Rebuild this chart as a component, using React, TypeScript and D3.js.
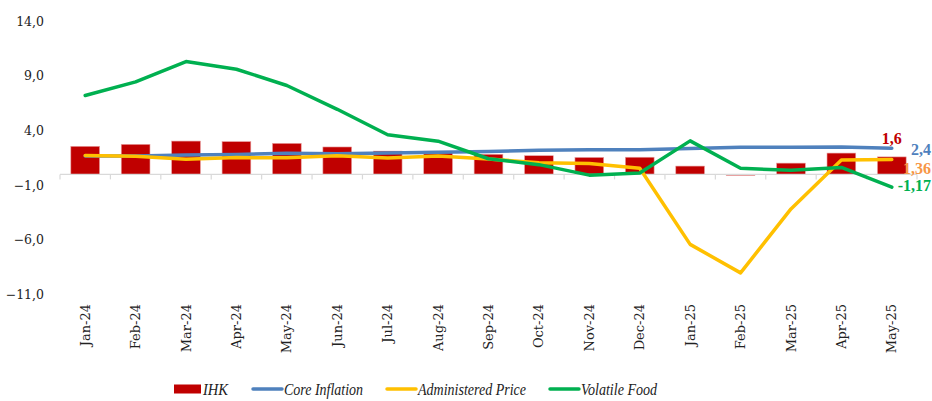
import React from "react";
import * as d3 from "d3";

const categories = ["Jan-24","Feb-24","Mar-24","Apr-24","May-24","Jun-24","Jul-24","Aug-24","Sep-24","Oct-24","Nov-24","Dec-24","Jan-25","Feb-25","Mar-25","Apr-25","May-25"];
const ihk = [2.57,2.75,3.05,3.00,2.84,2.51,2.13,2.12,1.84,1.71,1.55,1.57,0.76,-0.09,1.03,1.95,1.60];
const coreInflation = [1.68,1.68,1.77,1.82,1.93,1.90,1.95,2.02,2.09,2.21,2.26,2.26,2.36,2.48,2.48,2.50,2.40];
const administeredPrice = [1.74,1.67,1.39,1.54,1.52,1.70,1.51,1.68,1.40,1.07,1.00,0.56,-6.41,-9.02,-3.16,1.31,1.36];
const volatileFood = [7.22,8.47,10.33,9.63,8.14,5.96,3.63,3.04,1.43,0.89,-0.07,0.12,3.07,0.56,0.37,0.64,-1.17];
const yTicks = [14,9,4,-1,-6,-11];
const endLabels = ["1,6","2,4","1,36","-1,17"];
const legendNames = ["IHK","Core Inflation","Administered Price","Volatile Food"];

const W = 932, H = 401;
const FONT = "'DejaVu Serif', Georgia, serif";
const LFONT = "'Liberation Serif', 'Times New Roman', serif";
const C_IHK = "#C00000", C_CORE = "#4F81BD", C_ADM = "#FFC000", C_VOL = "#00B050";

export default function App() {
  const x = d3.scaleBand<string>().domain(categories).range([60, 917]).paddingInner(0.43).paddingOuter(0.215);
  const y = d3.scaleLinear().domain([-11, 14]).range([294.5, 21.5]);
  const cx = (i: number) => (x(categories[i]) as number) + x.bandwidth() / 2;
  const line = d3.line<number>().x((_, i) => cx(i)).y(d => y(d));
  const step = x.step();
  const x0 = 60;
  const last = categories.length - 1;

  const fmt = (v: number) => d3.format(".1f")(v).replace(".", ",");

  const legendX = [174, 253, 387, 550];
  const legendTextW = [25, 79, 108, 76];
  const legendColors = [C_IHK, C_CORE, C_ADM, C_VOL];
  const ly = 389;

  return (
    <svg width={W} height={H} style={{ position: "absolute", left: 0, top: 0, background: "#fff" }} fontFamily={FONT}>
      {/* y labels */}
      {yTicks.map(t => (
        <text key={t} x={44} y={y(t)} dy="0.35em" textAnchor="end" fontSize={12.5} fill="#222">{fmt(t)}</text>
      ))}
      {/* bars */}
      {ihk.map((v, i) => (
        <rect key={i} x={x(categories[i])} y={Math.min(y(v), y(0))} width={x.bandwidth()} height={Math.abs(y(v) - y(0))}
          fill={C_IHK} stroke="#e8a0a0" strokeWidth={0.6} />
      ))}
      {/* zero axis */}
      <line x1={x0} x2={917} y1={y(0)} y2={y(0)} stroke="#d9d9d9" strokeWidth={1.2} />
      {d3.range(categories.length + 1).map(i => (
        <line key={i} x1={x0 + i * step} x2={x0 + i * step} y1={y(0)} y2={y(0) + 5} stroke="#d9d9d9" strokeWidth={1.2} />
      ))}
      {/* lines */}
      <path d={line(coreInflation) as string} fill="none" stroke={C_CORE} strokeWidth={3.5} strokeLinejoin="round" strokeLinecap="round" />
      <path d={line(administeredPrice) as string} fill="none" stroke={C_ADM} strokeWidth={3.5} strokeLinejoin="round" strokeLinecap="round" />
      <path d={line(volatileFood) as string} fill="none" stroke={C_VOL} strokeWidth={3.5} strokeLinejoin="round" strokeLinecap="round" />
      {/* end labels */}
      <g fontFamily={LFONT} fontWeight="bold" fontSize={16}>
        <text x={cx(last)} y={y(ihk[last]) - 13} textAnchor="middle" fill={C_IHK}>{endLabels[0]}</text>
        <text x={931} y={y(coreInflation[last]) + 7} textAnchor="end" fill={C_CORE}>{endLabels[1]}</text>
        <text x={931} y={y(administeredPrice[last]) + 14} textAnchor="end" fill="#F79646">{endLabels[2]}</text>
        <text x={931} y={y(volatileFood[last]) + 4} textAnchor="end" fill={C_VOL}>{endLabels[3]}</text>
      </g>
      {/* x labels */}
      {categories.map((c, i) => (
        <text key={c} transform={`translate(${cx(i)},304) rotate(-90)`} textAnchor="end" dy="0.35em" fontSize={13} fill="#222">{c}</text>
      ))}
      {/* legend */}
      <g fontFamily={LFONT} fontSize={16} fontStyle="italic" fill="#222">
        {legendNames.map((n, i) => (
          <g key={n}>
            {i === 0
              ? <rect x={legendX[i]} y={ly - 4.5} width={27} height={9} fill={legendColors[i]} />
              : <line x1={legendX[i]} x2={legendX[i] + 29} y1={ly} y2={ly} stroke={legendColors[i]} strokeWidth={3.5} strokeLinecap="round" />}
            <text x={legendX[i] + (i === 0 ? 29 : 31)} y={ly} dy="0.35em" textLength={legendTextW[i]} lengthAdjust="spacingAndGlyphs">{n}</text>
          </g>
        ))}
      </g>
    </svg>
  );
}
